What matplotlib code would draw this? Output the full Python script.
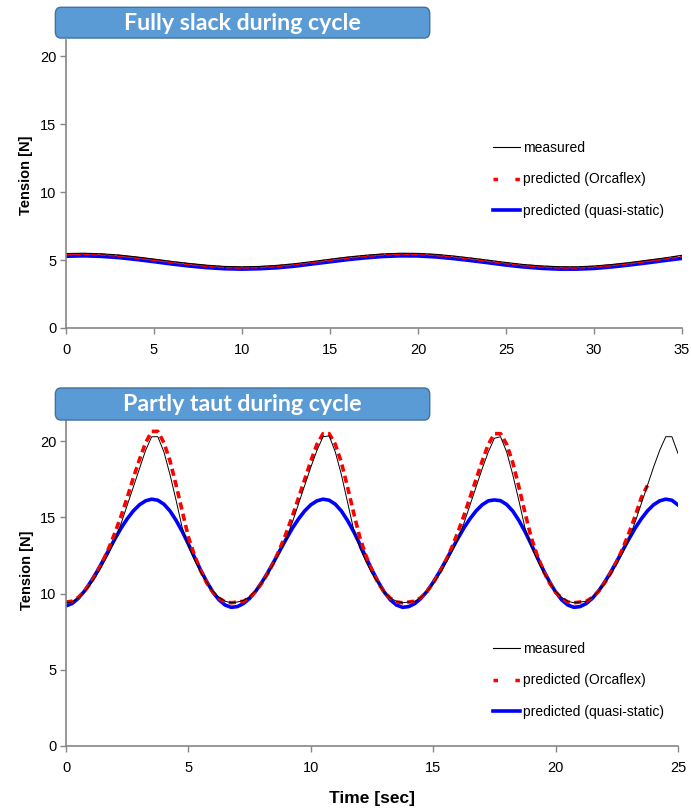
import numpy as np
import matplotlib
matplotlib.use("Agg")
import matplotlib.pyplot as plt
from matplotlib.lines import Line2D
from matplotlib.patches import FancyBboxPatch

plt.rcParams["font.family"] = ["Liberation Sans", "DejaVu Sans"]

# ---------------------------------------------------------------------------
# Data
# ---------------------------------------------------------------------------

# top panel: fully slack, sampled every 1 s
slack_t = np.arange(0, 36, 1.0)
slack_measured = [5.48, 5.50, 5.46, 5.37, 5.23, 5.07, 4.90, 4.75, 4.62, 4.53,
                  4.50, 4.53, 4.61, 4.73, 4.89, 5.06, 5.22, 5.35, 5.45, 5.50,
                  5.49, 5.42, 5.30, 5.15, 4.99, 4.82, 4.67, 4.57, 4.51, 4.50,
                  4.56, 4.67, 4.81, 4.98, 5.15, 5.35]
slack_orcaflex = [5.42, 5.44, 5.40, 5.31, 5.17, 5.01, 4.84, 4.69, 4.56, 4.47,
                  4.44, 4.47, 4.55, 4.67, 4.83, 5.00, 5.16, 5.29, 5.39, 5.44,
                  5.43, 5.36, 5.24, 5.09, 4.93, 4.76, 4.61, 4.51, 4.45, 4.44,
                  4.50, 4.61, 4.75, 4.92, 5.09, 5.28]
slack_quasi = [5.28, 5.31, 5.27, 5.18, 5.04, 4.88, 4.71, 4.56, 4.44, 4.36,
               4.33, 4.36, 4.43, 4.55, 4.71, 4.87, 5.03, 5.16, 5.26, 5.31,
               5.30, 5.23, 5.11, 4.96, 4.80, 4.63, 4.49, 4.39, 4.33, 4.33,
               4.38, 4.49, 4.63, 4.79, 4.96, 5.12]

# bottom panel: partly taut, sampled every 0.25 s
taut_t = np.arange(0, 25.01, 0.25)
taut_measured = [
    9.40, 9.45, 9.70, 10.10, 10.60, 11.20, 11.90, 12.65, 13.50, 14.60, 15.80, 17.00, 18.20, 19.40,
    20.30, 20.30, 19.30, 17.80, 16.10, 14.30, 13.10, 12.20, 11.40, 10.75, 10.15, 9.75, 9.50, 9.40,
    9.45, 9.55, 9.80, 10.20, 10.70, 11.30, 12.00, 12.75, 13.60, 14.70, 15.90, 17.10, 18.30, 19.40,
    20.30, 20.35, 19.30, 17.80, 16.00, 14.20, 13.00, 12.10, 11.30, 10.70, 10.10, 9.70, 9.50, 9.40,
    9.45, 9.50, 9.75, 10.15, 10.65, 11.25, 11.95, 12.70, 13.55, 14.60, 15.80, 17.00, 18.20, 19.30,
    20.20, 20.30, 19.30, 17.80, 16.10, 14.30, 13.10, 12.20, 11.40, 10.75, 10.15, 9.75, 9.50, 9.40,
    9.45, 9.50, 9.75, 10.15, 10.65, 11.25, 11.95, 12.70, 13.60, 14.70, 15.90, 17.10, 18.30, 19.40,
    20.30, 20.30, 19.20,
]
taut_orcaflex = [
    9.45, 9.50, 9.75, 10.15, 10.70, 11.35, 12.10, 13.00, 14.00, 15.10, 16.30, 17.60, 18.80, 19.90,
    20.65, 20.65, 19.90, 18.70, 17.10, 15.40, 13.70, 12.50, 11.50, 10.70, 10.10, 9.70, 9.45, 9.40,
    9.45, 9.50, 9.75, 10.15, 10.70, 11.35, 12.10, 13.00, 14.00, 15.10, 16.30, 17.50, 18.70, 19.80,
    20.50, 20.50, 19.80, 18.60, 17.00, 15.30, 13.70, 12.50, 11.50, 10.70, 10.10, 9.70, 9.45, 9.40,
    9.45, 9.50, 9.75, 10.15, 10.70, 11.35, 12.10, 13.00, 14.00, 15.10, 16.30, 17.50, 18.70, 19.80,
    20.50, 20.50, 19.80, 18.60, 17.00, 15.30, 13.70, 12.50, 11.50, 10.70, 10.10, 9.70, 9.45, 9.40,
    9.45, 9.50, 9.75, 10.15, 10.70, 11.35, 12.10, 13.00, 14.00, 15.10, 16.30, 17.10,
]
taut_quasi = [
    9.20, 9.35, 9.69, 10.16, 10.75, 11.41, 12.13, 12.87, 13.60, 14.30, 14.91, 15.43, 15.83, 16.09,
    16.20, 16.13, 15.87, 15.42, 14.80, 14.07, 13.25, 12.39, 11.55, 10.78, 10.10, 9.59, 9.25, 9.10,
    9.15, 9.35, 9.69, 10.16, 10.75, 11.41, 12.13, 12.87, 13.60, 14.30, 14.91, 15.43, 15.83, 16.09,
    16.20, 16.13, 15.87, 15.42, 14.80, 14.07, 13.25, 12.39, 11.55, 10.78, 10.10, 9.59, 9.25, 9.10,
    9.15, 9.35, 9.69, 10.16, 10.75, 11.41, 12.13, 12.87, 13.60, 14.30, 14.91, 15.43, 15.83, 16.09,
    16.15, 16.10, 15.85, 15.42, 14.80, 14.07, 13.25, 12.39, 11.55, 10.78, 10.10, 9.59, 9.25, 9.10,
    9.15, 9.35, 9.69, 10.16, 10.75, 11.41, 12.13, 12.87, 13.60, 14.30, 14.91, 15.43, 15.83, 16.09,
    16.20, 16.13, 15.82,
]

labels = ["measured", "predicted (Orcaflex)", "predicted (quasi-static)"]
titles = ["Fully slack during cycle", "Partly taut during cycle"]

RED_DASH = (0, (2.0, 1.2))
BOX_FACE = "#5B9BD5"
BOX_EDGE = "#41719C"
SPINE = "#868686"


def style_axes(ax, xmax, ymax, ylabel_y):
    ax.set_xlim(0, xmax)
    ax.set_ylim(0, ymax)
    ax.set_yticks([0, 5, 10, 15, 20])
    ax.set_xticks(np.arange(0, xmax + 1, 5))
    for side in ("top", "right"):
        ax.spines[side].set_visible(False)
    for side in ("left", "bottom"):
        ax.spines[side].set_color(SPINE)
        ax.spines[side].set_linewidth(1.2)
    ax.tick_params(direction="out", length=4, width=1, color=SPINE, labelsize=10.5)
    ax.tick_params(axis="x", pad=7)
    ax.tick_params(axis="y", pad=3)
    ax.set_ylabel("Tension [N]", fontsize=10.5, fontweight="bold")
    ax.yaxis.set_label_coords(-0.053, ylabel_y)


def add_legend(fig, ax, y_anchor):
    handles = [
        Line2D([], [], color="black", linewidth=0.8),
        Line2D([], [], color="red", linewidth=2.5, linestyle=(0, (1.3, 5.0))),
        Line2D([], [], color="blue", linewidth=2.6),
    ]
    ax.legend(handles, labels, loc="upper left", frameon=False,
              bbox_to_anchor=(0.712, y_anchor), bbox_transform=fig.transFigure,
              borderpad=0, borderaxespad=0, handlelength=2.0, handletextpad=0.15,
              labelspacing=1.25, fontsize=10)


def add_title_box(fig, y0, y1, text):
    box = FancyBboxPatch((0.080, y0), 0.541, y1 - y0,
                         boxstyle="round,pad=0,rounding_size=0.008",
                         transform=fig.transFigure, facecolor=BOX_FACE,
                         edgecolor=BOX_EDGE, linewidth=1.0)
    fig.patches.append(box)
    fig.text(0.35, (y0 + y1) / 2 - 0.001, text, ha="center", va="center",
             color="white", fontsize=16.7, fontweight="bold", family="Lato")


fig = plt.figure(figsize=(6.92, 8.09), dpi=100)

# -- top panel --------------------------------------------------------------
ax1 = fig.add_axes([0.0954, 0.5946, 0.890, 0.356])
ax1.plot(slack_t, slack_quasi, color="blue", linewidth=2.6)
ax1.plot(slack_t, slack_orcaflex, color="red", linewidth=1.6, linestyle=(0, (3, 0.8)))
ax1.plot(slack_t, slack_measured, color="black", linewidth=0.8)
style_axes(ax1, 35, 21.2, 0.53)
add_legend(fig, ax1, 0.8257)

# -- bottom panel -----------------------------------------------------------
ax2 = fig.add_axes([0.0954, 0.0779, 0.8844, 0.403])
ax2.plot(taut_t, taut_quasi, color="blue", linewidth=2.6)
ax2.plot(taut_t[:len(taut_orcaflex)], taut_orcaflex, color="red", linewidth=2.6,
         linestyle=RED_DASH)
ax2.plot(taut_t, taut_measured, color="black", linewidth=0.7)
style_axes(ax2, 25, 21.4, 0.54)
ax2.set_xlabel("Time [sec]", fontsize=12.5, fontweight="bold", labelpad=11)
add_legend(fig, ax2, 0.2064)

add_title_box(fig, 0.953, 0.991, titles[0])
add_title_box(fig, 0.4808, 0.5204, titles[1])

fig.savefig("out.png", dpi=100)
